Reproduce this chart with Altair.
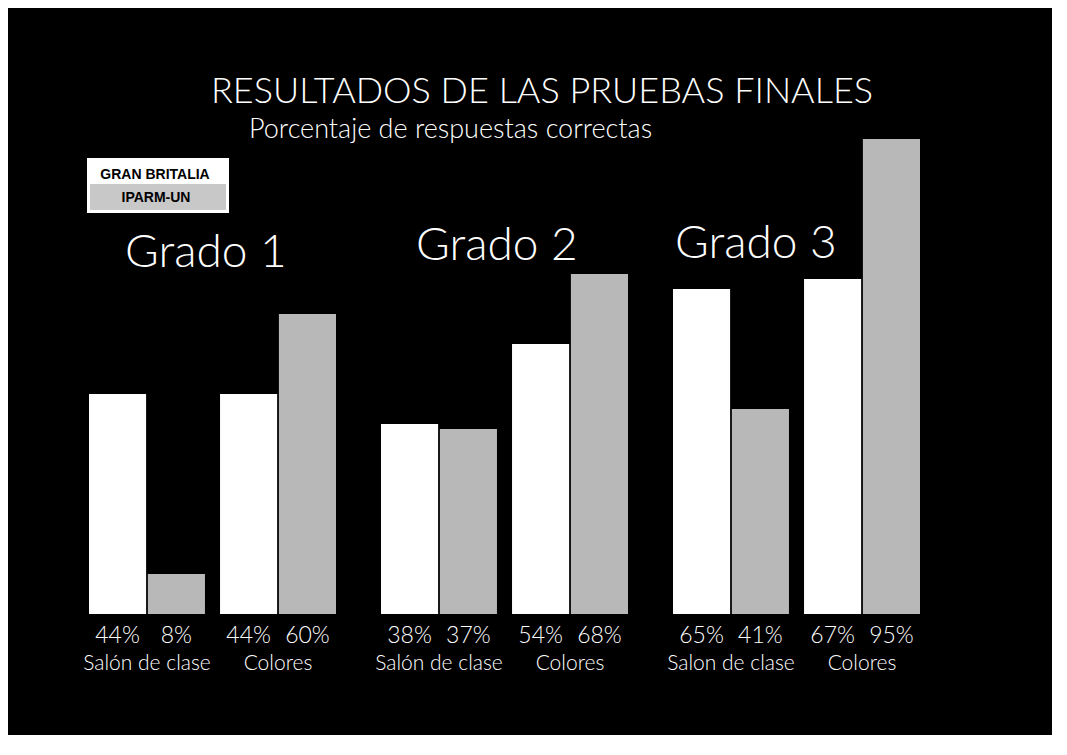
import altair as alt
import pandas as pd

# ---- data ----
grades = ["Grado 1", "Grado 2", "Grado 3"]
conditions = ["Salón de clase", "Colores"]
series = ["GRAN BRITALIA", "IPARM-UN"]
gb_salon = [44, 38, 65]
iparm_salon = [8, 37, 41]
gb_colores = [44, 54, 67]
iparm_colores = [60, 68, 95]
title_text = "RESULTADOS DE LAS PRUEBAS FINALES"
subtitle_text = "Porcentaje de respuestas correctas"

rows = []
for i, g in enumerate(grades):
    for cond, s, v in [
        (conditions[0], series[0], gb_salon[i]),
        (conditions[0], series[1], iparm_salon[i]),
        (conditions[1], series[0], gb_colores[i]),
        (conditions[1], series[1], iparm_colores[i]),
    ]:
        rows.append({"grade": g, "condition": cond, "series": s,
                     "value": v, "label": f"{v}%"})
df = pd.DataFrame(rows)

FONT = "Lato"
LEG_FONT = "Liberation Sans"
W, H = 247, 500
GREY = "#b8b8b8"


def panel(i, grade_x, grade_y, label_expr=None):
    g = grades[i]
    base = alt.Chart(df).transform_filter(alt.datum.grade == g)
    axis_kw = dict(title=None, labelAngle=0, domain=False, ticks=False,
                   labelColor="white", labelFont=FONT, labelFontSize=21,
                   labelFontWeight=300, labelPadding=38)
    if label_expr:
        axis_kw["labelExpr"] = label_expr
    x = alt.X("condition:N", sort=conditions,
              scale=alt.Scale(domain=conditions, paddingInner=0.115, paddingOuter=0),
              axis=alt.Axis(**axis_kw))
    xo = alt.XOffset("series:N", sort=series,
                     scale=alt.Scale(domain=series, paddingInner=0.03))
    bars = base.mark_bar().encode(
        x=x, xOffset=xo,
        y=alt.Y("value:Q", scale=alt.Scale(domain=[0, 100]), axis=None),
        color=alt.Color("series:N", scale=alt.Scale(domain=series, range=["#ffffff", GREY]),
                        legend=None),
    )
    pct = base.mark_text(color="white", font=FONT, fontSize=23, fontWeight=300,
                         baseline="alphabetic").encode(
        x=x, xOffset=xo, y=alt.value(H + 29), text="label:N")
    glabel = alt.Chart(pd.DataFrame({"grade": [g]})).mark_text(
        color="white", font=FONT, fontSize=46, fontWeight=300,
        align="left", baseline="alphabetic").encode(
        x=alt.value(grade_x), y=alt.value(grade_y), text="grade:N")
    layers = [bars, pct, glabel]
    if i == 0:
        one = pd.DataFrame({"k": [0]})
        title = alt.Chart(one).mark_text(
            color="white", font=FONT, fontSize=36, fontWeight=300,
            align="left", baseline="alphabetic").encode(
            x=alt.value(122), y=alt.value(-11), text=alt.value(title_text))
        subtitle = alt.Chart(one).mark_text(
            color="white", font=FONT, fontSize=27, fontWeight=300,
            align="left", baseline="alphabetic").encode(
            x=alt.value(160), y=alt.value(24), text=alt.value(subtitle_text))
        box = alt.Chart(one).mark_rect(color="white").encode(
            x=alt.value(-2), x2=alt.value(140), y=alt.value(44), y2=alt.value(99))
        box2 = alt.Chart(one).mark_rect(color="#c8c8c8").encode(
            x=alt.value(1), x2=alt.value(137), y=alt.value(70), y2=alt.value(96))
        leg1 = alt.Chart(one).mark_text(
            color="black", font=LEG_FONT, fontSize=14, fontWeight="bold",
            align="center", baseline="alphabetic").encode(
            x=alt.value(66), y=alt.value(65), text=alt.value(series[0]))
        leg2 = alt.Chart(one).mark_text(
            color="black", font=LEG_FONT, fontSize=14, fontWeight="bold",
            align="center", baseline="alphabetic").encode(
            x=alt.value(67), y=alt.value(88), text=alt.value(series[1]))
        layers += [title, subtitle, box, box2, leg1, leg2]
    return alt.layer(*layers).properties(width=W, height=H)


p1 = panel(0, 36, 153)
p2 = panel(1, 35, 146)
p3 = panel(2, 2, 144,
           label_expr="datum.value == 'Salón de clase' ? 'Salon de clase' : datum.value")

chart = alt.hconcat(p1, p2, p3, spacing=45, bounds="flush").properties(
    padding={"left": 74, "top": 66, "right": 132, "bottom": 62}
).configure(background="black").configure_view(strokeWidth=0)

chart.save("out.html", embed_options={"renderer": "svg", "actions": False})
